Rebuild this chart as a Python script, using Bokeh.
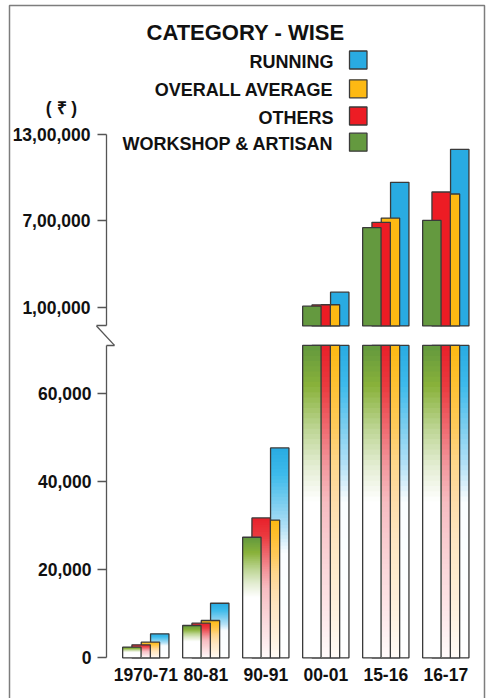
from bokeh.plotting import figure
from bokeh.models import Range1d, LinearAxis, FixedTicker, ColumnDataSource, Label
from bokeh.embed import file_html
from bokeh.resources import INLINE

# ---- data -------------------------------------------------------------
periods = ["1970-71", "80-81", "90-91", "00-01", "15-16", "16-17"]
running = [5450, 12400, 47700, 204000, 966000, 1195000]
overall_average = [3550, 8480, 31300, 117000, 718000, 885000]
others = [2950, 7860, 31800, 116000, 688500, 899000]
workshop_artisan = [2410, 7340, 27400, 107000, 651700, 702000]

series_labels = ["RUNNING", "OVERALL AVERAGE", "OTHERS", "WORKSHOP & ARTISAN"]
lower_ticks = [0, 20000, 40000, 60000]
upper_ticks = [100000, 700000, 1300000]

LOWER_TOP = 71000      # highest value shown in the lower (broken) panel
UPPER_FLOOR = -30000   # where the upper panel's bars start

# ---- layout (pixels) --------------------------------------------------
W, H = 487, 698
BOX_L, BOX_R, BOX_T = 9, 484, 5          # outer border box
GROUP0_PX, GROUP_STEP_PX = 145.3, 60.0
BAR_W_PX, BAR_STEP_PX = 18.4, 9.3
AXIS_PX = 106
LOW_ZERO_PX, LOW_PX_PER = 657.3, 88.0 / 20000
UP_REF, UP_REF_PX, UP_PX_PER = 100000, 306.7, 14.42 / 100000


def x_at(px):
    return (px - GROUP0_PX) / GROUP_STEP_PX


def low_at(py):
    return (LOW_ZERO_PX - py) / LOW_PX_PER


def up_at(py):
    return UP_REF + (UP_REF_PX - py) / UP_PX_PER


def up_px(v):
    return UP_REF_PX - (v - UP_REF) * UP_PX_PER


def inr(v):
    s = str(int(v))
    if len(s) <= 3:
        return s
    head, tail = s[:-3], s[-3:]
    parts = []
    while len(head) > 2:
        parts.insert(0, head[-2:])
        head = head[:-2]
    if head:
        parts.insert(0, head)
    return ",".join(parts + [tail])


def blend(stops, t):
    for (t0, c0), (t1, c1) in zip(stops, stops[1:]):
        if t <= t1:
            f = 0 if t1 == t0 else (t - t0) / (t1 - t0)
            return "#%02x%02x%02x" % tuple(round(a + (b - a) * f) for a, b in zip(c0, c1))
    return "#%02x%02x%02x" % stops[-1][1]


FONT = "Liberation Sans"
EDGE = "#3a3a3a"
AXIS_COLOR = "#555555"
INK = "#111111"

# back-to-front drawing order: running, average, others, workshop
series = [
    ("RUNNING", running, 1.5, "#29abe2",
     [(0.0, (41, 171, 226)), (0.13, (62, 187, 235)), (0.27, (128, 207, 240)),
      (0.38, (178, 224, 246)), (0.5, (250, 253, 255)), (1.0, (255, 255, 255))]),
    ("OVERALL AVERAGE", overall_average, 0.5, "#fdb913",
     [(0.0, (253, 185, 19)), (0.13, (254, 193, 52)), (0.27, (255, 203, 95)),
      (0.38, (255, 214, 140)), (0.5, (255, 222, 170)), (0.62, (255, 230, 193)),
      (0.85, (255, 241, 222)), (1.0, (255, 251, 246))]),
    ("OTHERS", others, -0.5, "#ed1c24",
     [(0.0, (232, 32, 42)), (0.13, (235, 58, 63)), (0.27, (239, 108, 114)),
      (0.38, (243, 150, 156)), (0.5, (247, 188, 193)), (0.62, (249, 203, 207)),
      (0.85, (253, 231, 233)), (1.0, (255, 250, 250))]),
    ("WORKSHOP & ARTISAN", workshop_artisan, -1.5, "#64993f",
     [(0.0, (98, 152, 62)), (0.13, (137, 178, 58)), (0.27, (190, 214, 150)),
      (0.38, (226, 236, 208)), (0.5, (255, 255, 255)), (1.0, (255, 255, 255))]),
]

p = figure(width=W, height=H, output_backend="svg", toolbar_location=None,
           x_range=Range1d(x_at(0), x_at(W)),
           y_range=Range1d(low_at(H), low_at(0)),
           x_axis_type=None, y_axis_type=None,
           min_border_left=0, min_border_right=0,
           min_border_top=0, min_border_bottom=0)
p.extra_y_ranges = {"upper": Range1d(up_at(H), up_at(0))}
p.outline_line_color = None
p.background_fill_color = "white"
p.border_fill_color = "white"

# outer border box (its lower edge runs past the bottom of the page)
p.quad(left=[x_at(BOX_L)], right=[x_at(BOX_R)], top=[low_at(BOX_T)],
       bottom=[low_at(H + 30)], fill_color=None, line_color="#7d7d7d",
       line_width=1.5)

half_w = BAR_W_PX / 2 / GROUP_STEP_PX
step = BAR_STEP_PX / GROUP_STEP_PX
N_SLICES = 60

for name, vals, off, solid, stops in series:
    # lower panel: gradient bars, clipped at the break
    sl = dict(left=[], right=[], top=[], bottom=[], color=[])
    ol = dict(left=[], right=[], top=[], bottom=[])
    up = dict(left=[], right=[], top=[], bottom=[])
    for i, v in enumerate(vals):
        cx = i + off * step
        h = min(v, LOWER_TOP)
        for k in range(N_SLICES):
            sl["left"].append(cx - half_w)
            sl["right"].append(cx + half_w)
            sl["bottom"].append(0)
            sl["top"].append(h * (1 - k / N_SLICES))
            sl["color"].append(blend(stops, (k + 0.5) / N_SLICES))
        ol["left"].append(cx - half_w)
        ol["right"].append(cx + half_w)
        ol["bottom"].append(0)
        ol["top"].append(h)
        if v > LOWER_TOP:
            up["left"].append(cx - half_w)
            up["right"].append(cx + half_w)
            up["bottom"].append(UPPER_FLOOR)
            up["top"].append(v)
    p.quad(left="left", right="right", top="top", bottom="bottom",
           fill_color="color", line_color=None, source=ColumnDataSource(sl))
    p.quad(left="left", right="right", top="top", bottom="bottom",
           fill_color=None, line_color=EDGE, line_width=1.3,
           source=ColumnDataSource(ol))
    # upper panel: solid bars
    p.quad(left="left", right="right", top="top", bottom="bottom",
           fill_color=solid, line_color=EDGE, line_width=1.3,
           y_range_name="upper", source=ColumnDataSource(up))

# ---- axes -------------------------------------------------------------
axis_x = x_at(AXIS_PX)
common = dict(axis_line_color=AXIS_COLOR, axis_line_width=1.3,
              major_tick_line_color=AXIS_COLOR, major_tick_line_width=1.3,
              major_tick_out=9, major_tick_in=0,
              minor_tick_line_color=AXIS_COLOR, minor_tick_line_width=1.3,
              major_label_text_font=FONT, major_label_text_font_style="bold",
              major_label_text_font_size="17.5px", major_label_text_color=INK,
              major_label_standoff=6, fixed_location=axis_x)

lower_axis = LinearAxis(ticker=FixedTicker(ticks=lower_ticks, minor_ticks=[LOWER_TOP]),
                        bounds=(0, LOWER_TOP),
                        major_label_overrides={t: inr(t) for t in lower_ticks},
                        minor_tick_in=8, minor_tick_out=0, **common)
upper_axis = LinearAxis(y_range_name="upper",
                        ticker=FixedTicker(ticks=upper_ticks, minor_ticks=[UPPER_FLOOR]),
                        bounds=(UPPER_FLOOR, upper_ticks[-1]),
                        major_label_overrides={t: inr(t) for t in upper_ticks},
                        minor_tick_in=0, minor_tick_out=10, **common)
p.add_layout(lower_axis, "left")
p.add_layout(upper_axis, "left")

x_axis = LinearAxis(ticker=FixedTicker(ticks=list(range(len(periods)))),
                    major_label_overrides={i: s for i, s in enumerate(periods)},
                    fixed_location=0, axis_line_color=None,
                    major_tick_line_color=None, minor_tick_line_color=None,
                    major_label_text_font=FONT, major_label_text_font_style="bold",
                    major_label_text_font_size="17.5px", major_label_text_color=INK,
                    major_label_standoff=4)
p.add_layout(x_axis, "below")

# diagonal stroke of the axis break
brk_top = low_at(up_px(UPPER_FLOOR))
p.segment(x0=[x_at(AXIS_PX - 10)], y0=[brk_top], x1=[x_at(AXIS_PX + 8)], y1=[LOWER_TOP],
          line_color=AXIS_COLOR, line_width=1.3)

# ---- title, unit and legend -------------------------------------------
p.add_layout(Label(x=x_at(245), y=low_at(32), text="CATEGORY - WISE",
                   text_align="center", text_baseline="middle",
                   text_font=FONT, text_font_style="bold", text_font_size="22px",
                   text_color=INK))
p.add_layout(Label(x=x_at(61), y=low_at(107.5), text="( ₹ )",
                   text_align="center", text_baseline="middle",
                   text_font=FONT, text_font_style="bold", text_font_size="17.5px",
                   text_color=INK))

legend_rows = [59.5, 88.3, 115.5, 141.7]
colors = {name: solid for name, _, _, solid, _ in series}
for label, cy in zip(series_labels, legend_rows):
    p.add_layout(Label(x=x_at(333), y=low_at(cy + 1.5), text=label,
                       text_align="right", text_baseline="middle",
                       text_font=FONT, text_font_style="bold", text_font_size="18px",
                       text_color=INK))
    p.quad(left=[x_at(349)], right=[x_at(366.5)], top=[low_at(cy - 9)],
           bottom=[low_at(cy + 9)], fill_color=colors[label], line_color=EDGE,
           line_width=1.3)

open("out.html", "w").write(file_html(p, INLINE))
